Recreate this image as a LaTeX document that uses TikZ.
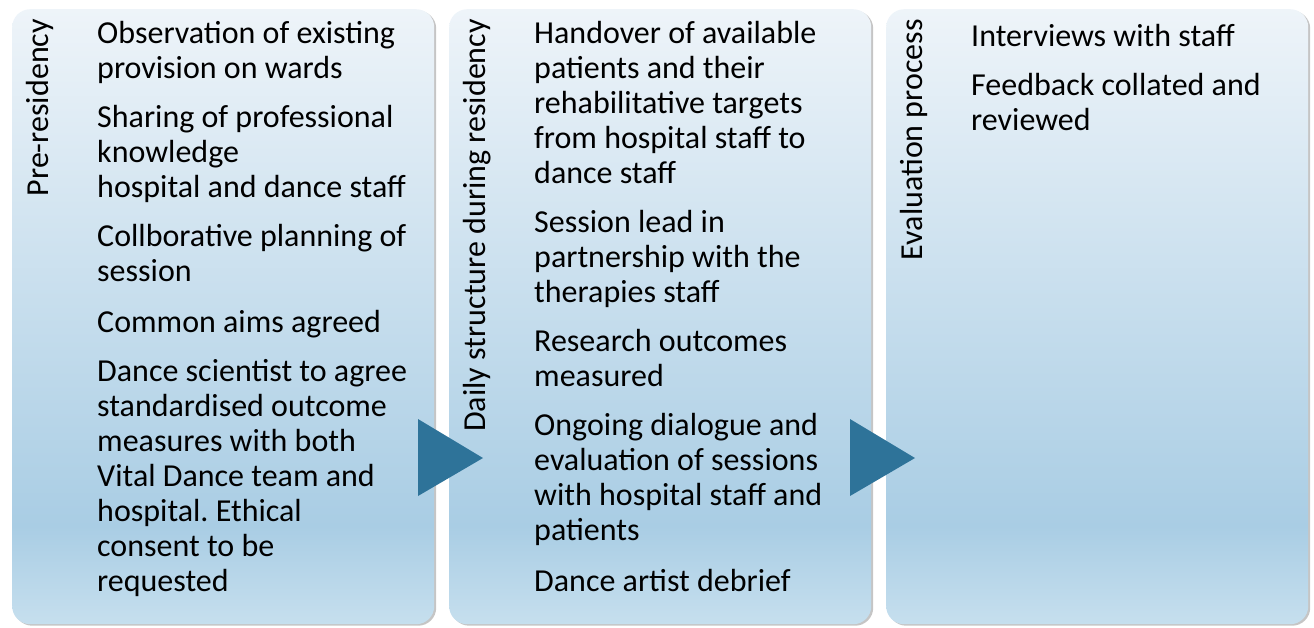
\documentclass[tikz,border=0pt]{standalone}
\usepackage{fontspec}
\setmainfont{Carlito}
\frenchspacing
\usetikzlibrary{positioning,shadows}
\definecolor{paneltop}{HTML}{EEF4F9}
\definecolor{panelmid}{HTML}{A9CDE4}
\definecolor{panelbot}{HTML}{C6DFEE}
\definecolor{flowblue}{HTML}{2E7399}
\pgfdeclareverticalshading{panelshade}{100bp}{color(0bp)=(panelbot); color(25bp)=(panelbot); color(33bp)=(panelmid); color(75bp)=(paneltop); color(100bp)=(paneltop)}
\newcommand{\itemfont}{\fontsize{32}{35}\selectfont}
\tikzset{
    panel/.style={rectangle,rounded corners=18pt,anchor=north west,minimum width=422pt,minimum height=615pt,shading=panelshade,
        drop shadow={shadow xshift=2pt,shadow yshift=-1.5pt,fill=black!45,opacity=.5}},
    phase/.style={rotate=90,anchor=base east,inner sep=0pt,font=\itemfont},
    item/.style={anchor=north west,inner sep=0pt,align=left,font=\itemfont,
        execute at begin node=\strut,execute at end node=\strut},
    next/.style={below=15.75pt of #1.south west,anchor=north west}
}
\begin{document}
\begin{tikzpicture}[x=1pt,y=-1pt]
\useasboundingbox (0,0) rectangle (1314,627);

\node[panel] (pre) at (12,9) {};
\node[panel] (daily) at (449,9) {};
\node[panel] (eval) at (886,9) {};

\foreach \x in {418,850}
    \fill[flowblue] (\x,419) -- ++(65,39) -- ++(-65,38) -- cycle;

% pre-residency
\node[phase] (preT) at (48,19) {Pre-residency};
\node[item] (pre1) at (97,21.5) {Observation of existing\\provision on wards};
\node[item,next=pre1] (pre2) {Sharing of professional\\knowledge\\hospital and dance staff};
\node[item,next=pre2] (pre3) {Collborative planning of\\session};
\node[item,next=pre3] (pre4) {Common aims agreed};
\node[item,next=pre4] (pre5) {Dance scientist to agree\\standardised outcome\\measures with both\\Vital Dance team and\\hospital. Ethical\\consent to be\\requested};

% daily structure
\node[phase] (dailyT) at (485,19) {Daily structure during residency};
\node[item] (daily1) at (534,21.5) {Handover of available\\patients and their\\rehabilitative targets\\from hospital staff to\\dance staff};
\node[item,next=daily1] (daily2) {Session lead in\\partnership with the\\therapies staff};
\node[item,next=daily2] (daily3) {Research outcomes\\measured};
\node[item,next=daily3] (daily4) {Ongoing dialogue and\\evaluation of sessions\\with hospital staff and\\patients};
\node[item,next=daily4] (daily5) {Dance artist debrief};

% evaluation
\node[phase] (evalT) at (922,19) {Evaluation process};
\node[item] (eval1) at (971,21.5) {Interviews with staff};
\node[item,next=eval1] (eval2) {Feedback collated and\\reviewed};
\end{tikzpicture}
\end{document}
